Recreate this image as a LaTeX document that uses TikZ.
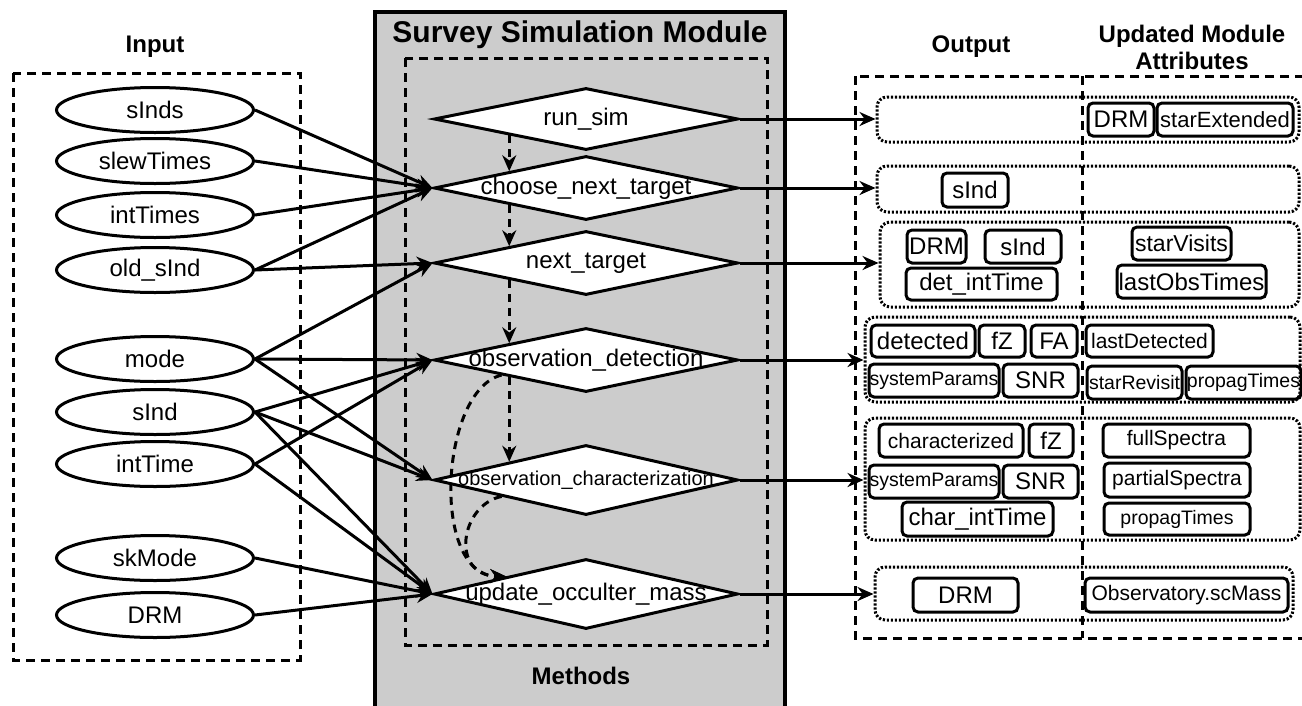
\documentclass[tikz,border=0pt]{standalone}
\usepackage{fontspec}
\setmainfont{Liberation Sans}
\usetikzlibrary{shapes.geometric,arrows.meta,calc}
\newcommand{\fsz}[1]{\fontsize{#1}{#1}\selectfont}
\definecolor{modgray}{RGB}{204,204,204}
\begin{document}
\begin{tikzpicture}[x=1pt,y=-1pt,
  ell/.style={ellipse, draw, line width=3pt, minimum width=197pt, minimum height=45pt, inner sep=0pt, font=\fsz{24}},
  dia/.style={diamond, draw, fill=white, line width=3pt, minimum width=304pt, minimum height=64pt, inner sep=0pt, font=\fsz{24}},
  arr/.style={line width=3pt, -{Stealth[length=16pt,width=14pt]}},
  darr/.style={arr, dash pattern=on 8pt off 6pt},
  dbox/.style={draw, line width=3pt, dash pattern=on 9pt off 6pt},
  rowbox/.style={draw, line width=3pt, dash pattern=on 2.2pt off 1.8pt, rounded corners=10pt, inner sep=0pt},
  ib/.style={draw, line width=3pt, rounded corners=5pt, inner sep=0pt, minimum height=33pt, font=\fsz{24}},
  ttl/.style={font=\bfseries\fsz{24}, inner sep=0pt}
]
\useasboundingbox (0,0) rectangle (1302,705);
\clip (0,0) rectangle (1302,705);

% module background
\draw[line width=3.5pt, fill=modgray] (375,12) rectangle (785,720);
\node[font=\bfseries\fsz{30}, inner sep=0pt] (modt) at (580,35) {Survey Simulation Module};
\node[ttl] (meth) at (581,676) {Methods};
\draw[dbox] (405,58) rectangle (767,645);

% input
\node[ttl] (intitle) at (155,47) {Input};
\draw[dbox] (13,73) rectangle (300,660);
\node[ell] (e1) at (155,110) {sInds};
\node[ell] (e2) at (155,161) {slewTimes};
\node[ell] (e3) at (155,215) {intTimes};
\node[ell] (e4) at (155,270) {old\_sInd};
\node[ell] (e5) at (155,359) {mode};
\node[ell] (e6) at (155,412) {sInd};
\node[ell] (e7) at (155,464) {intTime};
\node[ell] (e8) at (155,558) {skMode};
\node[ell] (e9) at (155,615) {DRM};

% output area
\node[ttl] (outt) at (971,47) {Output};
\node[ttl, align=center, font=\bfseries\fontsize{24}{27}\selectfont] (updt) at (1192,47) {Updated Module\\Attributes};
\draw[dbox] (855,76) rectangle (1320,638);
\draw[dbox] (1082,76) -- (1082,638);

\node[rowbox, minimum width=422pt, minimum height=45pt] (r1) at (1088,119.5) {};
\node[rowbox, minimum width=422pt, minimum height=46pt] (r2) at (1088,189) {};
\node[rowbox, minimum width=419pt, minimum height=85pt] (r3) at (1089.5,264.5) {};
\node[rowbox, minimum width=435pt, minimum height=85pt] (r4) at (1082.5,359.5) {};
\node[rowbox, minimum width=435pt, minimum height=122pt] (r5) at (1082.5,479) {};
\node[rowbox, minimum width=418pt, minimum height=53pt] (r6) at (1084,593.5) {};

% row 1
\node[ib, minimum width=66pt] (b11) at (1121,119.5) {DRM};
\node[ib, minimum width=136pt, font=\fsz{22}] (b12) at (1225,119.5) {starExtended};
% row 2
\node[ib, minimum width=66pt, minimum height=34pt] (b21) at (975,190) {sInd};
% row 3
\node[ib, minimum width=59pt] (b31) at (936.5,246.5) {DRM};
\node[ib, minimum width=76pt] (b32) at (1023,246.5) {sInd};
\node[ib, minimum width=151pt, minimum height=32pt] (b33) at (981.5,284) {det\_intTime};
\node[ib, minimum width=99pt, font=\fsz{23}] (b34) at (1181.5,243.5) {starVisits};
\node[ib, minimum width=149pt] (b35) at (1191.5,281.5) {lastObsTimes};
% row 4
\node[ib, minimum width=104pt, minimum height=32pt] (b41) at (923,341) {detected};
\node[ib, minimum width=46pt, minimum height=32pt] (b42) at (1002,341) {fZ};
\node[ib, minimum width=46pt, minimum height=32pt] (b43) at (1054,341) {FA};
\node[ib, minimum width=130pt, font=\fsz{19.5}] (b44) at (934,380.5) {systemParams};
\node[ib, minimum width=75pt] (b45) at (1040.5,380.5) {SNR};
\node[ib, minimum width=127pt, minimum height=32pt, font=\fsz{21}] (b46) at (1149.5,341) {lastDetected};
\node[ib, minimum width=95pt, font=\fsz{19.5}] (b47) at (1134.5,382.5) {starRevisit};
\node[ib, minimum width=115pt, font=\fsz{19.5}] (b48) at (1243.5,382.5) {propagTimes};
% row 5
\node[ib, minimum width=144pt, font=\fsz{21}] (b51) at (951,440.5) {characterized};
\node[ib, minimum width=44pt] (b52) at (1051,440.5) {fZ};
\node[ib, minimum width=130pt, font=\fsz{19.5}] (b53) at (934,481.5) {systemParams};
\node[ib, minimum width=75pt] (b54) at (1040.5,481.5) {SNR};
\node[ib, minimum width=151pt, minimum height=34pt] (b55) at (977.5,519) {char\_intTime};
\node[ib, minimum width=147pt, font=\fsz{21}] (b56) at (1176.5,440.5) {fullSpectra};
\node[ib, minimum width=146pt, minimum height=34pt, font=\fsz{21}] (b57) at (1177,480) {partialSpectra};
\node[ib, minimum width=146pt, minimum height=32pt, font=\fsz{19.5}] (b58) at (1177,519) {propagTimes};
% row 6
\node[ib, minimum width=105pt, minimum height=34pt] (b61) at (965.5,595) {DRM};
\node[ib, minimum width=203pt, minimum height=34pt, font=\fsz{21}] (b62) at (1186.5,595) {Observatory.scMass};

% diamonds
\node[dia, minimum height=62pt] (d1) at (586,119) {\makebox[0pt]{run\_sim}};
\node[dia] (d2) at (586,188) {\makebox[0pt]{choose\_next\_target}};
\node[dia] (d3) at (586,263) {\makebox[0pt]{next\_target}};
\node[dia] (d4) at (586,360) {\makebox[0pt]{observation\_detection}};
\node[dia, minimum height=70pt, font=\fsz{20}] (d5) at (586,480) {\makebox[0pt]{observation\_characterization}};
\node[dia, minimum height=70pt] (d6) at (586,594) {\makebox[0pt]{update\_occulter\_mass}};

% input arrows
\draw[arr] (e1.east) -- (d2.west);
\draw[arr] (e2.east) -- (d2.west);
\draw[arr] (e3.east) -- (d2.west);
\draw[arr] (e4.east) -- (d2.west);
\draw[arr] (e4.east) -- (d3.west);
\draw[arr] (e5.east) -- (d3.west);
\draw[arr] (e5.east) -- (d4.west);
\draw[arr] (e5.east) -- (d5.west);
\draw[arr] (e6.east) -- (d4.west);
\draw[arr] (e6.east) -- (d5.west);
\draw[arr] (e6.east) -- (d6.west);
\draw[arr] (e7.east) -- (d4.west);
\draw[arr] (e7.east) -- (d6.west);
\draw[arr] (e8.east) -- (d6.west);
\draw[arr] (e9.east) -- (d6.west);

% flow arrows
\draw[darr] ($(d1.west)!0.5!(d1.south)$) -- ($(d2.west)!0.5!(d2.north)$);
\draw[darr] ($(d2.west)!0.5!(d2.south)$) -- ($(d3.west)!0.5!(d3.north)$);
\draw[darr] ($(d3.west)!0.5!(d3.south)$) -- ($(d4.west)!0.5!(d4.north)$);
\draw[darr] ($(d4.west)!0.5!(d4.south)$) -- ($(d5.west)!0.5!(d5.north)$);
\coordinate (cend) at ($(d6.west)!0.48!(d6.north)$);
\draw[darr] ($(d4.west)!0.45!(d4.south)$) .. controls (440,390) and (430,575) .. (cend);
\draw[darr] ($(d5.west)!0.45!(d5.south)$) .. controls (460,505) and (450,575) .. (cend);

% output arrows
\draw[arr] (d1.east) -- (d1.east -| r1.west);
\draw[arr] (d2.east) -- (d2.east -| r2.west);
\draw[arr] (d3.east) -- (d3.east -| r3.west);
\draw[arr] (d4.east) -- (d4.east -| r4.west);
\draw[arr] (d5.east) -- (d5.east -| r5.west);
\draw[arr] (d6.east) -- (d6.east -| r6.west);
\end{tikzpicture}
\end{document}
